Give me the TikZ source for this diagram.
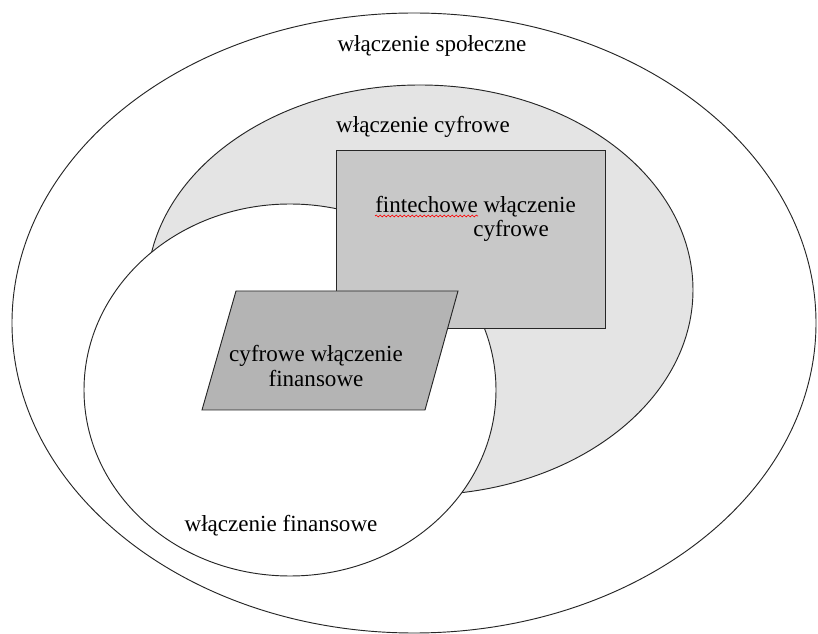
\documentclass[tikz,border=0pt]{standalone}
\usepackage{fontspec}
\setmainfont{Liberation Serif}
\usetikzlibrary{decorations.pathmorphing}
\definecolor{cyfrowyszary}{RGB}{228,228,228}
\definecolor{fintechszary}{RGB}{200,200,200}
\definecolor{finszary}{RGB}{180,180,180}

\begin{document}
\begin{tikzpicture}[x=0.75pt,y=-0.75pt,
    zbior/.style={draw=black!85,line width=0.7pt},
    etykieta/.style={inner sep=0pt,font=\fontsize{17.3}{18.5}\selectfont},
    falka/.style={red,line width=0.5pt,decorate,decoration={snake,amplitude=0.7pt,segment length=3pt}}]
        \useasboundingbox (0,0) rectangle (818,634);
        \draw[zbior,fill=white] (414,323) ellipse [x radius=402,y radius=310];
        \draw[zbior,fill=cyfrowyszary] (420,290) ellipse [x radius=273,y radius=205];
        \draw[zbior,fill=white] (290,390) ellipse [x radius=206,y radius=186];
        \draw[zbior,fill=fintechszary] (336,150) rectangle (605,328);
        \draw[zbior,fill=finszary] (236,291) -- (458,291) -- (425,410) -- (202,410) -- cycle;
        \node[etykieta] (spoleczne) at (432,46) {włączenie społeczne};
        \node[etykieta] (cyfrowe) at (423,127) {włączenie cyfrowe};
        \node[etykieta,align=left,anchor=west] (fintech) at (375,219) {fintechowe włączenie\\\hspace*{73.5pt}cyfrowe};
        \draw[falka] (375,216) -- (478,216);
        \node[etykieta,align=center] (cyfrfin) at (316,366) {cyfrowe włączenie\\finansowe};
        \node[etykieta] (finansowe) at (281,526) {włączenie finansowe};
\end{tikzpicture}
\end{document}
